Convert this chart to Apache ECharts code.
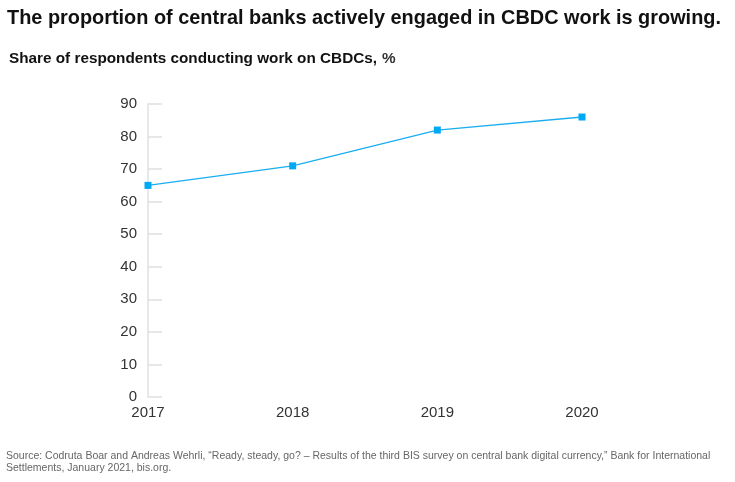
<!DOCTYPE html>
<html><head><meta charset="utf-8">
<script src="https://cdn.jsdelivr.net/npm/echarts@6/dist/echarts.min.js"></script>
<style>html,body{margin:0;padding:0;background:#fff}#c{width:735px;height:482px}</style>
</head><body><div id="c"></div>
<script>
const categories = ['2017','2018','2019','2020'];
const shareValues = [65, 71, 82, 86];
const yTicks = [0,10,20,30,40,50,60,70,80,90];

const chart = echarts.init(document.getElementById('c'), null, {renderer:'canvas'});
const font = 'Liberation Sans, Arial, sans-serif';
chart.setOption({
  animation:false,
  backgroundColor:'#fff',
  title:[
    {text:'The proportion of central banks actively engaged in CBDC work is growing.', left:7, top:9, padding:0,
     textStyle:{fontFamily:font, fontSize:19.9, fontWeight:'bold', color:'#111'}},
    {text:'{b|Share of respondents conducting work on CBDCs,} {n|%}', left:9, top:50, padding:0,
     textStyle:{rich:{b:{fontFamily:font,fontSize:15.3,fontWeight:'bold',color:'#111'},n:{fontFamily:font,fontSize:15.3,color:'#333'}}}},
    {text:'Source: Codruta Boar and Andreas Wehrli, \u201cReady, steady, go? \u2013 Results of the third BIS survey on central bank digital currency,\u201d Bank for International\nSettlements, January 2021, bis.org.',
     left:6, top:450, padding:0, textStyle:{fontFamily:font, fontSize:10.5, color:'#666', lineHeight:12, fontWeight:'normal'}}
  ],
  grid:{left:148, right:153, top:104, bottom:85},
  xAxis:{type:'category', data:categories, boundaryGap:false,
    axisLine:{show:false}, axisTick:{show:false},
    axisLabel:{fontFamily:font, fontSize:15, color:'#333', margin:8, interval:0}},
  yAxis:{type:'value', min:0, max:90, interval:10,
    axisLine:{show:true, lineStyle:{color:'#e0e0e0', width:1.5}},
    axisTick:{show:true, inside:true, length:14, lineStyle:{color:'#e0e0e0', width:1.5}},
    splitLine:{show:false},
    axisLabel:{fontFamily:font, fontSize:15, color:'#333', margin:11,
      formatter:v=>yTicks.includes(v)?String(v):''}},
  series:[{type:'line', data:shareValues, symbol:'rect', symbolSize:7,
    itemStyle:{color:'#00a9f4'}, lineStyle:{color:'#1aaef0', width:1.3}}]
});
</script></body></html>
